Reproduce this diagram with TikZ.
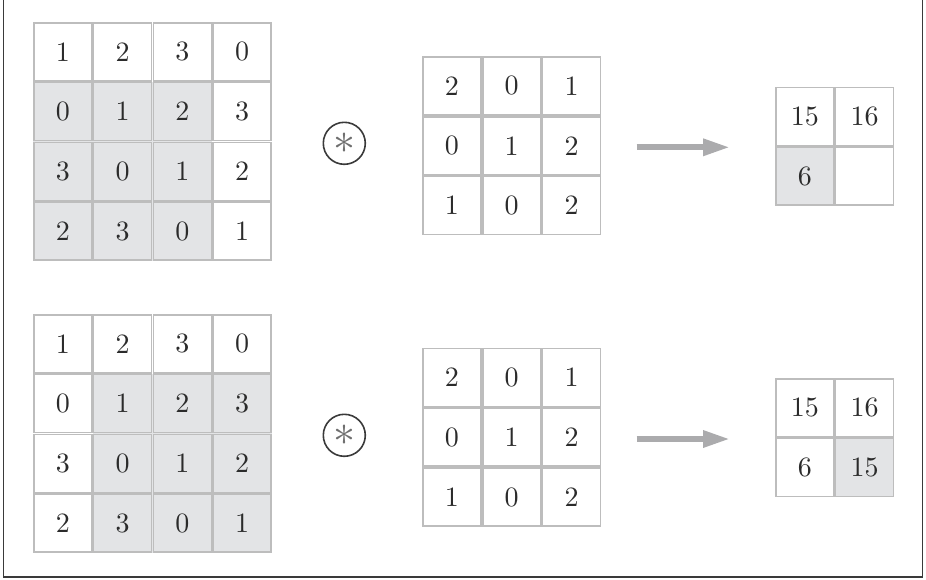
\documentclass[tikz,border=0pt]{standalone}
\usepackage{graphicx}
\usetikzlibrary{arrows.meta}
\definecolor{gridline}{HTML}{BDBDBD}
\definecolor{cellfill}{HTML}{E3E4E6}
\definecolor{numtext}{HTML}{2B2B2B}
\definecolor{framecol}{HTML}{3A3A3A}
\definecolor{arrowcol}{HTML}{ABABAD}
\definecolor{astcol}{HTML}{6F6F6F}
\newcommand{\nm}[1]{\scalebox{2.8}{#1}}
\begin{document}
\begin{tikzpicture}[x=1pt,y=-1pt,
  cell/.style={draw=gridline,line width=1.6pt,minimum size=58pt,inner sep=0pt,
    text=numtext,anchor=center},
  opcircle/.style={circle,draw=framecol,line width=1.6pt,minimum size=42pt,inner sep=0pt,
    text=astcol},
  grayarrow/.style={draw=arrowcol,line width=6pt,-{Triangle[length=27pt,width=16pt]}},
  frameline/.style={draw=framecol,line width=1.5pt}]
\useasboundingbox (0,0) rectangle (926,579);
% frame
\draw[frameline] (3.5,-2) -- (3.5,577) -- (922.5,577) -- (922.5,-2);
% shading backgrounds
\fill[cellfill] (33,81.75) rectangle (212.25,261);
\fill[cellfill] (92.75,373.75) rectangle (272,553);
\fill[cellfill] (775,146.2) rectangle (834.7,205.9);
\fill[cellfill] (834.7,437.7) rectangle (894.4,497.4);
% input matrices
\foreach \name/\ox/\oy in {A/33/22, B/33/314}{
  \foreach \row [count=\r from 0] in {{1,2,3,0},{0,1,2,3},{3,0,1,2},{2,3,0,1}}{
    \foreach \v [count=\c from 0] in \row{
      \node[cell] (\name-\r-\c) at ({\ox+29.875+\c*59.75},{\oy+29.875+\r*59.75}) {\nm{\v}};
    }
  }
}
% kernels
\foreach \name/\ox/\oy in {K/422/56, L/422/347.5}{
  \foreach \row [count=\r from 0] in {{2,0,1},{0,1,2},{1,0,2}}{
    \foreach \v [count=\c from 0] in \row{
      \node[cell] (\name-\r-\c) at ({\ox+29.9+\c*59.8},{\oy+29.9+\r*59.8}) {\nm{\v}};
    }
  }
}
% outputs
\node[cell] (P-0-0) at (804.85,116.35) {\nm{15}};
\node[cell] (P-0-1) at (864.55,116.35) {\nm{16}};
\node[cell] (P-1-0) at (804.85,176.05) {\nm{6}};
\node[cell] (P-1-1) at (864.55,176.05) {};
\node[cell] (Q-0-0) at (804.85,407.85) {\nm{15}};
\node[cell] (Q-0-1) at (864.55,407.85) {\nm{16}};
\node[cell] (Q-1-0) at (804.85,467.55) {\nm{6}};
\node[cell] (Q-1-1) at (864.55,467.55) {\nm{15}};
% convolution operators
\node[opcircle] (op1) at (344.3,143.3) {\scalebox{4.4}{$\ast$}};
\node[opcircle] (op2) at (344.3,435.3) {\scalebox{4.4}{$\ast$}};
% arrows
\coordinate (s1) at (636.7,147.3);
\coordinate (e1) at (730,147.3);
\coordinate (s2) at (636.7,439);
\coordinate (e2) at (730,439);
\draw[grayarrow] (s1) -- (e1);
\draw[grayarrow] (s2) -- (e2);
\end{tikzpicture}
\end{document}
